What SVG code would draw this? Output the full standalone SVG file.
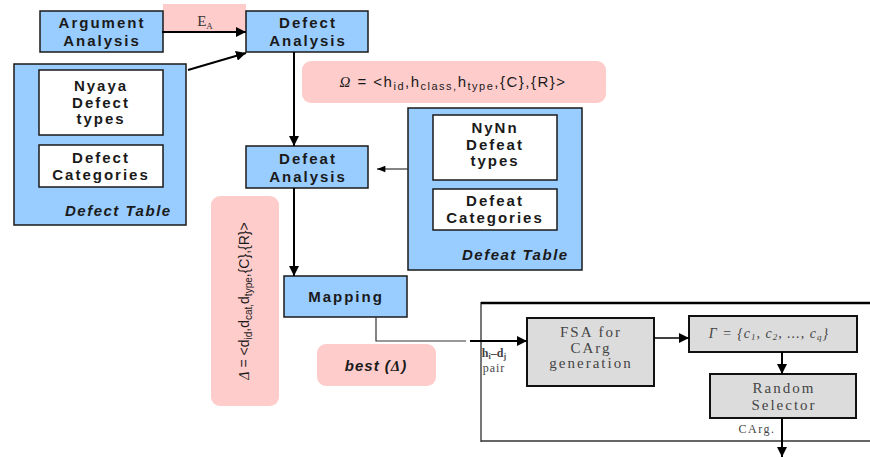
<svg xmlns="http://www.w3.org/2000/svg" width="870" height="457" viewBox="0 0 870 457">
  <defs>
    <marker id="head" viewBox="0 0 10 10" refX="10" refY="5" markerWidth="5" markerHeight="5" orient="auto" markerUnits="strokeWidth">
      <path d="M0,0 L10,5 L0,10 z" fill="#000"/>
    </marker>
    <marker id="headThin" viewBox="0 0 10 10" refX="10" refY="5" markerWidth="9" markerHeight="7" orient="auto" markerUnits="strokeWidth">
      <path d="M0,1 L10,5 L0,9 z" fill="#000"/>
    </marker>
    <marker id="headBig" viewBox="0 0 10 10" refX="10" refY="5" markerWidth="7" markerHeight="7" orient="auto" markerUnits="strokeWidth">
      <path d="M0,0 L10,5 L0,10 z" fill="#000"/>
    </marker>
  </defs>
  <style>
    .blue { fill: #99ccff; stroke: #1a1a1a; stroke-width: 1.5; }
    .white { fill: #ffffff; stroke: #1a1a1a; stroke-width: 1.5; }
    .pink { fill: #ffcccc; stroke: none; }
    .gray { fill: #dcdcdc; stroke: #111; stroke-width: 2; }
    .lbl { font-family: "Liberation Sans", Arial, sans-serif; font-size: 15px; font-weight: bold; fill: #1a1a1a; text-anchor: middle; letter-spacing: 2px; }
    .tbl { font-family: "Liberation Sans", Arial, sans-serif; font-size: 15px; font-weight: bold; font-style: italic; fill: #1a1a1a; letter-spacing: 1.5px; }
    .math { font-family: "Liberation Sans", Arial, sans-serif; font-size: 15px; fill: #1a1a1a; letter-spacing: 1.5px; }
    .math.vert { font-size: 14px; letter-spacing: 0; }
    .serif { font-family: "Liberation Serif", "Times New Roman", serif; fill: #444; text-anchor: middle; }
    .box { font-size: 15px; letter-spacing: 2px; }
    .conn { fill: none; stroke: #000; stroke-width: 2; }
    .thin { fill: none; stroke: #333; stroke-width: 1.2; }
  </style>

  <!-- edge label backgrounds -->
  <rect class="pink" x="163" y="4" width="83" height="29"/>

  <g id="argument-analysis">
    <rect class="blue" x="40" y="11" width="123" height="41"/>
    <text class="lbl" x="102" y="28">Argument</text>
    <text class="lbl" x="102" y="46">Analysis</text>
  </g>

  <g id="defect-analysis">
    <rect class="blue" x="246" y="11" width="122" height="41"/>
    <text class="lbl" x="308" y="28">Defect</text>
    <text class="lbl" x="308" y="46">Analysis</text>
  </g>

  <g id="defect-table">
    <rect class="blue" x="14" y="64" width="172" height="161"/>
    <rect class="white" x="39" y="70" width="124" height="65"/>
    <text class="lbl" x="101" y="91">Nyaya</text>
    <text class="lbl" x="101" y="108">Defect</text>
    <text class="lbl" x="101" y="124">types</text>
    <rect class="white" x="39" y="145" width="124" height="42"/>
    <text class="lbl" x="101" y="163">Defect</text>
    <text class="lbl" x="101" y="180">Categories</text>
    <text class="tbl" x="65" y="216">Defect Table</text>
  </g>

  <g id="omega">
    <rect class="pink" x="302" y="61" width="304" height="42" rx="9"/>
    <text class="math" x="453" y="87" text-anchor="middle"><tspan font-family="Liberation Serif, serif" font-style="italic">Ω</tspan> = &lt;h<tspan font-size="11" dy="3">id</tspan><tspan dy="-3">,h</tspan><tspan font-size="11" dy="3">class,</tspan><tspan dy="-3">h</tspan><tspan font-size="11" dy="3">type</tspan><tspan dy="-3">,{C},{R}&gt;</tspan></text>
  </g>

  <g id="defeat-analysis">
    <rect class="blue" x="246" y="146" width="122" height="42"/>
    <text class="lbl" x="308" y="164">Defeat</text>
    <text class="lbl" x="308" y="182">Analysis</text>
  </g>

  <g id="defeat-table">
    <rect class="blue" x="408" y="108" width="174" height="162"/>
    <rect class="white" x="433" y="115" width="124" height="65"/>
    <text class="lbl" x="495" y="133">NyNn</text>
    <text class="lbl" x="495" y="150">Defeat</text>
    <text class="lbl" x="495" y="166">types</text>
    <rect class="white" x="433" y="189" width="124" height="41"/>
    <text class="lbl" x="495" y="206">Defeat</text>
    <text class="lbl" x="495" y="223">Categories</text>
    <text class="tbl" x="462" y="260">Defeat Table</text>
  </g>

  <g id="delta">
    <rect class="pink" x="211" y="196" width="68" height="210" rx="9"/>
    <text class="math vert" transform="translate(249,301) rotate(-90)" text-anchor="middle"><tspan font-family="Liberation Serif, serif" font-style="italic">Δ</tspan> = &lt;d<tspan font-size="10" dy="3">id</tspan><tspan dy="-3">,d</tspan><tspan font-size="10" dy="3">cat,</tspan><tspan dy="-3">d</tspan><tspan font-size="10" dy="3">type</tspan><tspan dy="-3">,{C},{R}&gt;</tspan></text>
  </g>

  <g id="mapping">
    <rect class="blue" x="284" y="276" width="123" height="41"/>
    <text class="lbl" x="346" y="302">Mapping</text>
  </g>

  <g id="best">
    <rect class="pink" x="317" y="344" width="119" height="42" rx="9"/>
    <text class="tbl" x="376" y="371" text-anchor="middle" style="letter-spacing:1px">best (<tspan font-family="Liberation Serif, serif">Δ</tspan>)</text>
  </g>

  <!-- counter-argument generator -->
  <g id="generator">
    <path d="M481,442 L481,303 L870,303" fill="none" stroke="#777" stroke-width="2"/>
    <path d="M481,303 L870,303" fill="none" stroke="#000" stroke-width="2.5"/>
    <path d="M481,441 L870,441" fill="none" stroke="#333" stroke-width="1.5"/>
    <text class="serif" x="494" y="357" font-size="12" font-weight="bold">h<tspan font-size="8" dy="2">i</tspan><tspan dy="-2">–d</tspan><tspan font-size="8" dy="2">j</tspan></text>
    <text class="serif" x="494" y="372" font-size="12" style="letter-spacing:1px">pair</text>
  </g>

  <g id="fsa">
    <rect class="gray" x="527" y="318" width="127" height="68"/>
    <text class="serif box" x="591" y="337">FSA for</text>
    <text class="serif box" x="591" y="353">CArg</text>
    <text class="serif box" x="591" y="368">generation</text>
  </g>

  <g id="gamma">
    <rect class="gray" x="689" y="316" width="168" height="36"/>
    <text class="serif" x="769" y="338" font-size="14" font-style="italic" style="letter-spacing:1px">Γ = {c<tspan font-size="9" dy="2">1</tspan><tspan dy="-2">, c</tspan><tspan font-size="9" dy="2">2</tspan><tspan dy="-2">, ..., c</tspan><tspan font-size="9" dy="2">q</tspan><tspan dy="-2">}</tspan></text>
  </g>

  <g id="random-selector">
    <rect class="gray" x="710" y="374" width="146" height="44"/>
    <text class="serif box" x="784" y="393">Random</text>
    <text class="serif box" x="784" y="410">Selector</text>
  </g>

  <text class="serif" x="757" y="433" font-size="12" style="letter-spacing:1.5px">CArg.</text>

  <g id="connectors">
    <line class="conn" x1="162" y1="32" x2="246" y2="32" marker-end="url(#head)"/>
    <text x="205" y="26" font-family="Liberation Serif, serif" font-size="15" fill="#333" text-anchor="middle">E<tspan font-size="9" dy="3">A</tspan></text>
    <line class="conn" x1="188" y1="70" x2="246" y2="53" marker-end="url(#head)"/>
    <line class="conn" x1="294" y1="52" x2="294" y2="146" marker-end="url(#head)"/>
    <line class="thin" x1="408" y1="169" x2="377" y2="169" marker-end="url(#headThin)"/>
    <line class="conn" x1="294" y1="188" x2="294" y2="276" marker-end="url(#head)"/>
    <path class="thin" d="M376,317 L376,341 L466,341"/>
    <line class="conn" x1="470" y1="341" x2="527" y2="341" marker-end="url(#head)"/>
    <line x1="654" y1="338" x2="689" y2="338" stroke="#000" stroke-width="1.5" marker-end="url(#headBig)"/>
    <line class="conn" x1="782" y1="352" x2="782" y2="374" marker-end="url(#head)"/>
    <line class="conn" x1="782" y1="418" x2="782" y2="457" marker-end="url(#head)"/>
  </g>
</svg>
